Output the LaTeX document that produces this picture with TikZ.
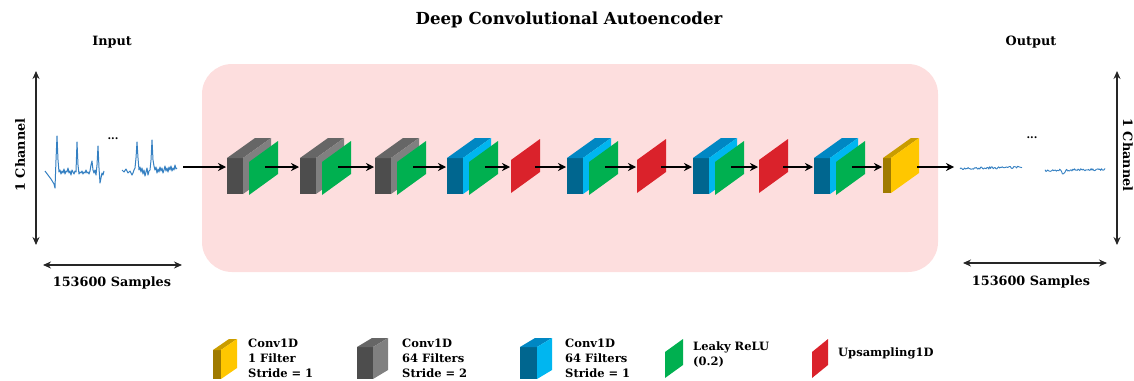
\documentclass[tikz,border=0pt]{standalone}
\usepackage{fontspec}
\setmainfont{DejaVu Serif}
\usetikzlibrary{arrows.meta}

\definecolor{panel}{HTML}{FDDEDE}
\definecolor{grayF}{HTML}{4D4D4D}
\definecolor{grayT}{HTML}{666666}
\definecolor{grayS}{HTML}{808080}
\definecolor{blueF}{HTML}{00668F}
\definecolor{blueT}{HTML}{0087C3}
\definecolor{blueS}{HTML}{00B6F0}
\definecolor{yelF}{HTML}{9F7A00}
\definecolor{yelT}{HTML}{C99C00}
\definecolor{yelS}{HTML}{FFC700}
\definecolor{relu}{HTML}{00B050}
\definecolor{upsm}{HTML}{DA222B}
\definecolor{sig}{HTML}{3580C2}

% a convolution block: #1 left x, #2 front, #3 top, #4 side colour
\newcommand\convblk[4]{%
  \fill[#2] (#1,158) rectangle ++(16,36);
  \fill[#3] (#1,158) -- ++(16,0) -- ++(28,-20) -- ++(-16,0) -- cycle;
  \fill[#4] (#1+16,158) -- ++(28,-20) -- ++(0,36) -- ++(-28,20) -- cycle;
}
% an activation / upsampling sheet: #1 left x, #2 top y, #3 colour
\newcommand\sheet[3]{%
  \fill[#3] (#1,#2) -- ++(29,-21) -- ++(0,33) -- ++(-29,21) -- cycle;
}

\tikzset{
  flow/.style={line width=1.8pt,-{Stealth[length=8pt,width=8pt]}},
  dimarr/.style={line width=1.1pt,draw=black!85,{Stealth[length=8pt,width=7pt]}-{Stealth[length=8pt,width=7pt]}},
  lbl/.style={font=\bfseries\fontsize{12.8}{15}\selectfont,inner sep=0pt},
  leg/.style={font=\bfseries\fontsize{11.5}{15}\selectfont,inner sep=0pt,anchor=west,align=left},
  wave/.style={draw=sig,line width=1pt,line join=round}
}

\begin{document}
\begin{tikzpicture}[x=1pt,y=-1pt]
\useasboundingbox (0,0) rectangle (1134,380);

% titles
\node[font=\bfseries\fontsize{16.6}{19}\selectfont,inner sep=0pt] (title) at (569,20) {Deep Convolutional Autoencoder};
\node[lbl] (inlbl) at (112,42) {Input};
\node[lbl] (outlbl) at (1031,42) {Output};

% encoder/decoder panel
\fill[panel,rounded corners=30pt] (202,64) rectangle (938,272);

% input signal
\draw[wave] plot coordinates {(45,171) (48,175) (51,179) (54,184) (55,188) (56,160) (57,136) (58,160) (59,172) (60,170) (61,174) (62,171) (63,173) (64,169) (65,174) (66,171) (67,172) (68,168) (69,173) (70,171) (71,175) (72,170) (73,172) (74,174) (75,171) (76,172) (77,142) (78,165) (79,174) (80,172) (81,173) (82,171) (83,174) (84,172) (85,173) (86,170) (87,173) (88,172) (89,174) (90,171) (91,165) (92,161) (93,170) (94,173) (95,170) (96,175) (97,165) (98,146) (99,168) (100,183) (101,178) (102,173) (103,175) (104,171)};
\draw[wave] plot coordinates {(122,170) (124,172) (126,169) (128,173) (130,171) (132,175) (133,173) (134,170) (135,168) (136,158) (137,142) (138,158) (139,170) (140,167) (141,172) (142,168) (143,174) (144,170) (145,176) (146,172) (147,168) (148,175) (149,171) (150,170) (151,160) (152,140) (153,160) (154,166) (155,170) (156,167) (157,173) (158,169) (159,172) (160,167) (161,171) (162,168) (163,173) (164,170) (165,166) (166,171) (167,168) (168,172) (169,167) (170,170) (171,166) (172,171) (173,168) (174,170) (175,165) (176,169) (177,168)};
\node[font=\bfseries\fontsize{10.5}{10}\selectfont,inner sep=0pt] (indots) at (113,139) {...};

% output signal
\pgfmathsetseed{7}
\draw[wave,line width=0.9pt] plot[domain=960:1022,samples=70] (\x,{168.5-0.02*(\x-960)+1.1*rand});
\draw[wave,line width=0.9pt] plot[domain=1045:1105,samples=70] (\x,{170.5-0.02*(\x-1045)+1.1*rand+3.5*max(0,1-abs(\x-1063)/3)});
\node[font=\bfseries\fontsize{10.5}{10}\selectfont,inner sep=0pt] (outdots) at (1032,138) {...};

% dimension arrows
\coordinate (chLt) at (36,71);   \coordinate (chLb) at (36,245);
\coordinate (smLa) at (43,265);  \coordinate (smLb) at (182,265);
\coordinate (chRt) at (1117,71); \coordinate (chRb) at (1117,245);
\coordinate (smRa) at (963,263); \coordinate (smRb) at (1107,263);
\draw[dimarr] (chLt) -- (chLb);
\draw[dimarr] (smLa) -- (smLb);
\draw[dimarr] (chRt) -- (chRb);
\draw[dimarr] (smRa) -- (smRb);
\node[lbl,rotate=90] (chL) at (20,155) {1 Channel};
\node[lbl,rotate=-90] (chR) at (1128,155) {1 Channel};
\node[lbl] (smL) at (112,283) {153600 Samples};
\node[lbl] (smR) at (1031,282) {153600 Samples};

% layers
\convblk{227}{grayF}{grayT}{grayS} \sheet{249}{162}{relu}
\convblk{300}{grayF}{grayT}{grayS} \sheet{322}{162}{relu}
\convblk{375}{grayF}{grayT}{grayS} \sheet{397}{162}{relu}
\convblk{447}{blueF}{blueT}{blueS} \sheet{469}{162}{relu}
\sheet{511}{160}{upsm}
\convblk{567}{blueF}{blueT}{blueS} \sheet{589}{162}{relu}
\sheet{637}{160}{upsm}
\convblk{693}{blueF}{blueT}{blueS} \sheet{715}{162}{relu}
\sheet{759}{160}{upsm}
\convblk{814}{blueF}{blueT}{blueS} \sheet{836}{162}{relu}
% output convolution
\fill[yelF] (883,158) rectangle ++(8,35);
\fill[yelT] (883,158) -- ++(8,0) -- ++(28,-20) -- ++(-8,0) -- cycle;
\fill[yelS] (891,158) -- ++(28,-20) -- ++(0,35) -- ++(-28,20) -- cycle;

% connection points
\coordinate (sigout) at (183,167);
\coordinate (c1in) at (226,167) ; \coordinate (c1out) at (265,167);
\coordinate (c2in) at (299,167) ; \coordinate (c2out) at (338,167);
\coordinate (c3in) at (374,167) ; \coordinate (c3out) at (413,167);
\coordinate (c4in) at (446,167) ; \coordinate (c4out) at (485,167);
\coordinate (u1in) at (510,167) ; \coordinate (u1out) at (535,167);
\coordinate (c5in) at (566,167) ; \coordinate (c5out) at (605,167);
\coordinate (u2in) at (636,167) ; \coordinate (u2out) at (661,167);
\coordinate (c6in) at (692,167) ; \coordinate (c6out) at (731,167);
\coordinate (u3in) at (758,167) ; \coordinate (u3out) at (783,167);
\coordinate (c7in) at (813,167) ; \coordinate (c7out) at (852,167);
\coordinate (c8in) at (882,167) ; \coordinate (c8out) at (917,167);
\coordinate (recin) at (954,167);

\draw[flow] (sigout) -- (c1in);
\draw[flow] (c1out) -- (c2in);
\draw[flow] (c2out) -- (c3in);
\draw[flow] (c3out) -- (c4in);
\draw[flow] (c4out) -- (u1in);
\draw[flow] (u1out) -- (c5in);
\draw[flow] (c5out) -- (u2in);
\draw[flow] (u2out) -- (c6in);
\draw[flow] (c6out) -- (u3in);
\draw[flow] (u3out) -- (c7in);
\draw[flow] (c7out) -- (c8in);
\draw[flow] (c8out) -- (recin);

% legend
\fill[yelF] (213,350) rectangle ++(8,29);
\fill[yelT] (213,350) -- ++(8,0) -- ++(16,-11) -- ++(-8,0) -- cycle;
\fill[yelS] (221,350) -- ++(16,-11) -- ++(0,29) -- ++(-16,11) -- cycle;
\node[leg] (legA) at (248,358) {Conv1D\\1 Filter\\Stride = 1};

\fill[grayF] (357,347) rectangle ++(16,32);
\fill[grayT] (357,347) -- ++(16,0) -- ++(15,-9) -- ++(-16,0) -- cycle;
\fill[grayS] (373,347) -- ++(15,-9) -- ++(0,32) -- ++(-15,9) -- cycle;
\node[leg] (legB) at (402,358) {Conv1D\\64 Filters\\Stride = 2};

\fill[blueF] (520,347) rectangle ++(17,32);
\fill[blueT] (520,347) -- ++(17,0) -- ++(15,-9) -- ++(-17,0) -- cycle;
\fill[blueS] (537,347) -- ++(15,-9) -- ++(0,32) -- ++(-15,9) -- cycle;
\node[leg] (legC) at (565,358) {Conv1D\\64 Filters\\Stride = 1};

\fill[relu] (665,352) -- (683,339) -- (683,365) -- (665,378) -- cycle;
\node[leg] (legD) at (693,355) {Leaky ReLU\\(0.2)};

\fill[upsm] (812,352) -- (828,339) -- (828,365) -- (812,378) -- cycle;
\node[leg] (legE) at (838,353) {Upsampling1D};
\end{tikzpicture}
\end{document}
